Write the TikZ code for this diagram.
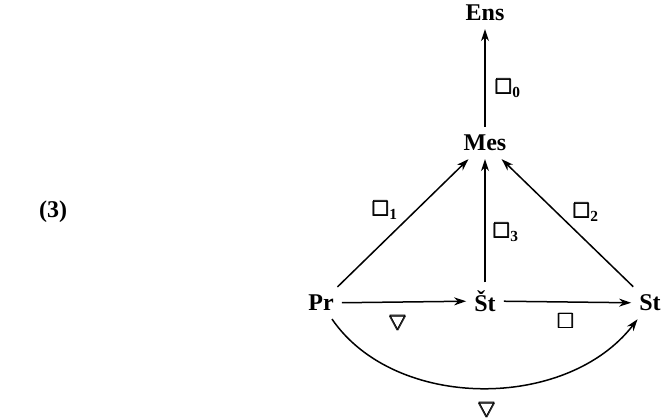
\documentclass[tikz,border=0pt]{standalone}
\usepackage{amsmath,amssymb}
\usepackage{fontspec}
\setmainfont{Liberation Serif}
\usetikzlibrary{arrows.meta}
\begin{document}
\begin{tikzpicture}[x=1pt,y=-1pt,
  obj/.style={font=\fontsize{24}{28}\selectfont\bfseries, inner sep=8pt},
  lab/.style={font=\fontsize{22}{26}\selectfont, inner sep=1pt},
  arr/.style={line width=1.5pt, -{Stealth[length=12pt,width=8pt]}}]
\useasboundingbox (0,0) rectangle (661,419);
\node[obj] (ens) at (485,13) {Ens};
\node[obj] (mes) at (485,143) {Mes};
\node[obj] (pr) at (321,303) {Pr};
\node[obj] (sc) at (485,301) {\v{S}t};
\node[obj] (st) at (650,303) {St};
\node[obj] (num) at (53,212) {(3)};
\draw[arr] (mes) -- (ens);
\draw[arr] (pr) -- (mes);
\draw[arr] (sc) -- (mes);
\draw[arr] (st) -- (mes);
\draw[arr] (pr) -- (sc);
\draw[arr] (sc) -- (st);
\draw[arr] (pr) .. controls (395,411) and (567,411) .. (st);
\node[lab] (l0) at (508,88) {$\pmb{\square}_{\mathbf{0}}$};
\node[lab] (l1) at (385,210) {$\pmb{\square}_{\mathbf{1}}$};
\node[lab] (l3) at (506,232) {$\pmb{\square}_{\mathbf{3}}$};
\node[lab] (l2) at (586,212) {$\pmb{\square}_{\mathbf{2}}$};
\node[lab] (lpr) at (398,321) {$\pmb{\bigtriangledown}$};
\node[lab] (lsc) at (566,321) {$\pmb{\square}$};
\node[lab] (nabla) at (487,408) {$\pmb{\bigtriangledown}$};
\end{tikzpicture}
\end{document}
